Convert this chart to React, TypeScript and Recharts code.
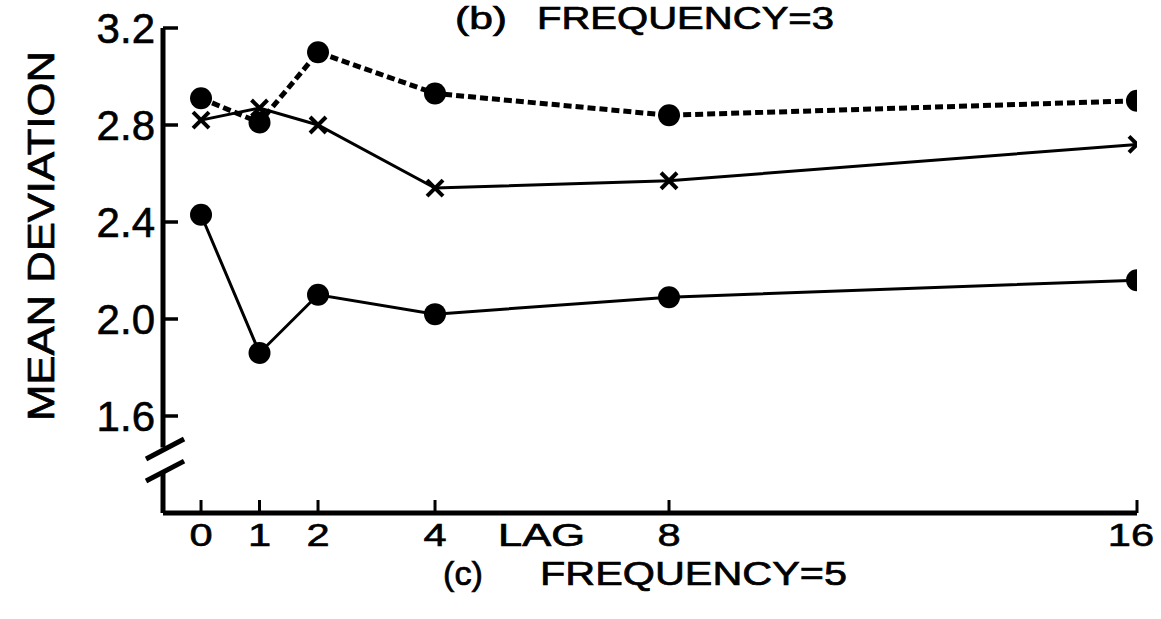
import { LineChart, Line, XAxis, YAxis, ReferenceLine } from "recharts";

const lags = [0, 1, 2, 4, 8, 16];
const dashedSeries = [2.91, 2.81, 3.1, 2.93, 2.84, 2.9];
const crossSeries = [2.82, 2.87, 2.8, 2.54, 2.57, 2.72];
const dotSeries = [2.43, 1.86, 2.1, 2.02, 2.09, 2.16];
const xTicks = [0, 1, 2, 4, 8, 16];
const yTicks = [1.6, 2.0, 2.4, 2.8, 3.2];

const rows = lags.map((lag, i) => ({
  lag,
  dashed: dashedSeries[i],
  cross: crossSeries[i],
  dots: dotSeries[i],
}));

const font = "'Liberation Sans', Arial, sans-serif";
const X_MIN = -0.65;

function XTick({ x, y, payload }: any) {
  // last label sits a little left of its tick, as in the scan
  const dx = payload.value === 16 ? -6 : 0;
  return (
    <g>
      <line x1={x} y1={y} x2={x} y2={y - 13} stroke="#000" strokeWidth={3} />
      <text
        transform={`translate(${x + dx},${y + 33}) scale(1.3,1)`}
        textAnchor="middle"
        fontSize={32}
        fontFamily={font}
        fill="#000"
        stroke="#000"
        strokeWidth={0.6}
      >
        {payload.value}
      </text>
    </g>
  );
}

function YTick({ x, y, payload }: any) {
  return (
    <g>
      <line x1={x} y1={y} x2={x + 15} y2={y} stroke="#000" strokeWidth={3.5} />
      <text
        x={x - 8}
        y={y + 15}
        textAnchor="end"
        fontSize={42}
        fontFamily={font}
        fill="#000"
        stroke="#000"
        strokeWidth={0.6}
      >
        {payload.value.toFixed(1)}
      </text>
    </g>
  );
}

function CrossDot({ cx, cy, index }: any) {
  const s = 8;
  return (
    <g key={`x-${index}`}>
      <line x1={cx - s} y1={cy - s} x2={cx + s} y2={cy + s} stroke="#000" strokeWidth={4} />
      <line x1={cx - s} y1={cy + s} x2={cx + s} y2={cy - s} stroke="#000" strokeWidth={4} />
    </g>
  );
}

export default function App() {
  return (
    <div style={{ position: "absolute", left: 0, top: 0, width: 1161, height: 619, background: "#fff" }}>
      <LineChart width={1161} height={619} data={rows} margin={{ top: 28, right: 24, bottom: 46, left: 103 }}>
        <XAxis
          type="number"
          dataKey="lag"
          domain={[X_MIN, 16]}
          ticks={xTicks}
          allowDataOverflow
          height={60}
          tickSize={0}
          tickMargin={0}
          tickLine={false}
          axisLine={{ stroke: "#000", strokeWidth: 5 }}
          tick={<XTick />}
        />
        <YAxis
          type="number"
          domain={[1.2, 3.2]}
          ticks={yTicks}
          allowDataOverflow
          width={60}
          tickSize={0}
          tickMargin={0}
          tickLine={false}
          axisLine={false}
          tick={<YTick />}
        />
        {/* y axis line with a break near the bottom */}
        <ReferenceLine
          segment={[{ x: X_MIN, y: 3.2 }, { x: X_MIN, y: 1.47 }]}
          stroke="#000"
          strokeWidth={5}
          ifOverflow="visible"
        />
        <ReferenceLine
          segment={[{ x: X_MIN, y: 1.37 }, { x: X_MIN, y: 1.2 }]}
          stroke="#000"
          strokeWidth={5}
          ifOverflow="visible"
        />
        <ReferenceLine
          segment={[{ x: -0.94, y: 1.423 }, { x: -0.29, y: 1.505 }]}
          stroke="#000"
          strokeWidth={5}
          ifOverflow="visible"
        />
        <ReferenceLine
          segment={[{ x: -0.94, y: 1.332 }, { x: -0.29, y: 1.414 }]}
          stroke="#000"
          strokeWidth={5}
          ifOverflow="visible"
        />
        <Line
          dataKey="dots"
          stroke="#000"
          strokeWidth={3}
          dot={{ r: 11, fill: "#000", stroke: "#000", strokeWidth: 0 }}
          isAnimationActive={false}
        />
        <Line
          dataKey="cross"
          stroke="#000"
          strokeWidth={3}
          dot={<CrossDot />}
          isAnimationActive={false}
        />
        <Line
          dataKey="dashed"
          stroke="#000"
          strokeWidth={5}
          strokeDasharray="8 4"
          dot={{ r: 11, fill: "#000", stroke: "#000", strokeWidth: 0 }}
          isAnimationActive={false}
        />
      </LineChart>
      <svg
        width={1161}
        height={619}
        style={{ position: "absolute", left: 0, top: 0, pointerEvents: "none" }}
        fontFamily={font}
        fill="#000"
        stroke="#000"
        strokeWidth={0.7}
      >
        <text x={455} y={29} fontSize={31} textLength={52} lengthAdjust="spacingAndGlyphs">(b)</text>
        <text x={537} y={29} fontSize={31} textLength={297} lengthAdjust="spacingAndGlyphs">FREQUENCY=3</text>
        <text x={498} y={546} fontSize={32} textLength={87} lengthAdjust="spacingAndGlyphs">LAG</text>
        <text x={443} y={585} fontSize={34} textLength={40} lengthAdjust="spacingAndGlyphs">(c)</text>
        <text x={540} y={585} fontSize={34} textLength={307} lengthAdjust="spacingAndGlyphs">FREQUENCY=5</text>
        <text
          transform="translate(54,236) rotate(-90)"
          textAnchor="middle"
          fontSize={36}
          textLength={370}
          lengthAdjust="spacingAndGlyphs"
        >
          MEAN DEVIATION
        </text>
      </svg>
    </div>
  );
}
